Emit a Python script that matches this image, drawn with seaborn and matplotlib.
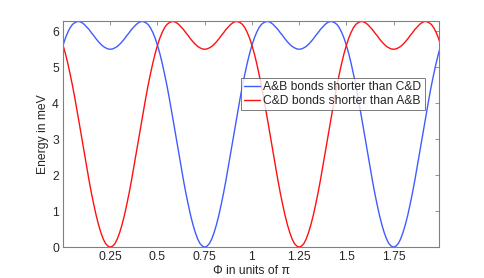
import matplotlib
matplotlib.use('Agg')
import matplotlib.pyplot as plt
import numpy as np
import pandas as pd
import seaborn as sns

# x in units of pi, sampled every 0.0125
phi = np.round(np.arange(0, 2.0001, 0.0125), 4)

# energy (meV), half period (0 .. 0.4875) at a time
high_half = [5.61, 5.81, 5.97, 6.10, 6.19, 6.24, 6.27, 6.27, 6.24, 6.19,
             6.12, 6.05, 5.96, 5.88, 5.79, 5.71, 5.64, 5.58, 5.54, 5.51,
             5.50, 5.51, 5.54, 5.58, 5.64, 5.71, 5.79, 5.88, 5.96, 6.05,
             6.12, 6.19, 6.24, 6.27, 6.27, 6.24, 6.19, 6.10, 5.97, 5.81]
low_half = [5.61, 5.38, 5.11, 4.81, 4.49, 4.14, 3.77, 3.39, 3.01, 2.62,
            2.24, 1.86, 1.51, 1.19, 0.89, 0.63, 0.41, 0.23, 0.10, 0.03,
            0.00, 0.03, 0.10, 0.23, 0.41, 0.63, 0.89, 1.19, 1.51, 1.86,
            2.24, 2.62, 3.01, 3.39, 3.77, 4.14, 4.49, 4.81, 5.11, 5.38]

ab_shorter = high_half + low_half + high_half + low_half + [5.61]
cd_shorter = low_half + high_half + low_half + high_half + [5.61]

labels = ['A&B bonds shorter than C&D', 'C&D bonds shorter than A&B']
xticks = [0.25, 0.5, 0.75, 1, 1.25, 1.5, 1.75]
xticklabels = ['0.25', '0.5', '0.75', '1', '1.25', '1.5', '1.75']

df = pd.concat([
    pd.DataFrame({'phi': phi, 'E': ab_shorter, 'case': labels[0]}),
    pd.DataFrame({'phi': phi, 'E': cd_shorter, 'case': labels[1]}),
])

sns.set_style('white')
plt.rcParams['font.family'] = ['Liberation Sans', 'DejaVu Sans']

fig = plt.figure(figsize=(4.85, 2.78), dpi=100)
ax = fig.add_axes([0.13, 0.111, 0.775, 0.814])

sns.lineplot(data=df, x='phi', y='E', hue='case',
             palette={labels[0]: '#3f5cff', labels[1]: '#ff1010'},
             linewidth=1.0, ax=ax)

ax.set_xlim(0, 1.99)
ax.set_ylim(0, 6.29)
ax.set_xticks(xticks)
ax.set_xticklabels(xticklabels)
ax.set_yticks(range(7))
ax.tick_params(direction='in', length=3, width=0.6, color='#808080',
               top=True, right=True, labelsize=8.7, pad=3)
for s in ax.spines.values():
    s.set_color('#808080')
    s.set_linewidth(0.8)

ax.set_xlabel('Φ in units of π', fontsize=8.7, labelpad=1)
ax.set_ylabel('Energy in meV', fontsize=8.7, labelpad=2)

leg = ax.legend(loc='upper right', bbox_to_anchor=(0.962, 0.748),
                fontsize=8.7, frameon=True, fancybox=False,
                handlelength=1.35, handletextpad=0.25, borderpad=0.25,
                labelspacing=0.2, borderaxespad=0)
leg.get_frame().set_edgecolor('#404040')
leg.get_frame().set_linewidth(0.6)

fig.savefig('out.png', dpi=100)
